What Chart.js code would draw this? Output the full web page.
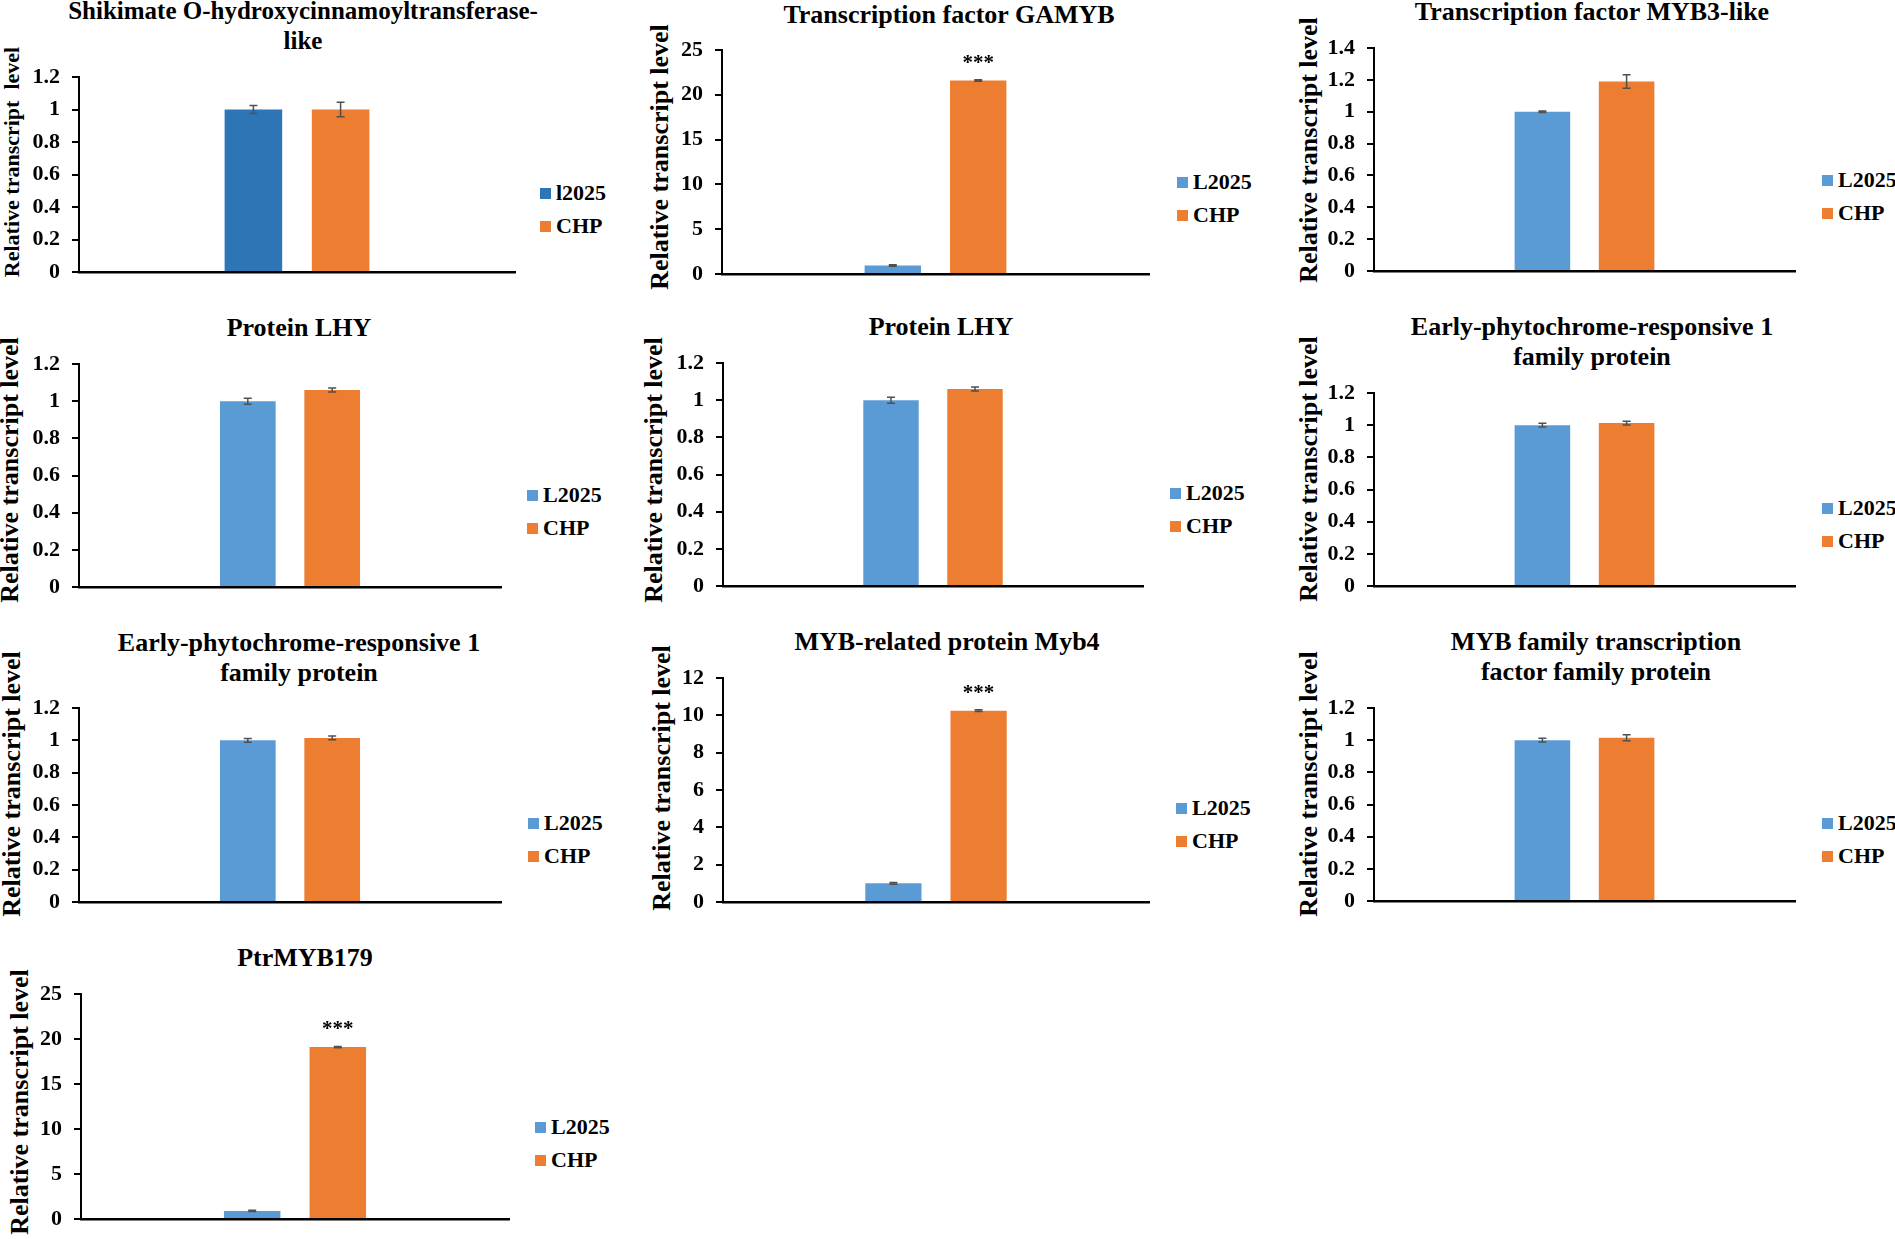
<!DOCTYPE html>
<html>
<head>
<meta charset="utf-8">
<script src="https://cdn.jsdelivr.net/npm/chart.js@4.4.1/dist/chart.umd.min.js"></script>
<style>
body { margin: 0; background: #fff; }
#page { position: relative; width: 1895px; height: 1239px; overflow: hidden; background: #fff;
        font-family: "Liberation Serif", "Times New Roman", serif; font-weight: bold; color: #000; }
#page canvas { position: absolute; }
.ttl { position: absolute; width: 800px; text-align: center; font-size: 26px; line-height: 30px; white-space: nowrap; }
.lg { position: absolute; font-size: 22px; line-height: 30px; white-space: nowrap; }
.sw { position: absolute; width: 11px; height: 11px; }
.yt { position: absolute; font-size: 26px; line-height: 30px; white-space: pre; transform: translate(-50%, -50%) rotate(-90deg); }
</style>
</head>
<body>
<div id="page"></div>
<script>
// values, one entry per panel
var titles = [
    ["Shikimate O-hydroxycinnamoyltransferase-", "like"],
    ["Transcription factor GAMYB"],
    ["Transcription factor MYB3-like"],
    ["Protein LHY"],
    ["Protein LHY"],
    ["Early-phytochrome-responsive 1", "family protein"],
    ["Early-phytochrome-responsive 1", "family protein"],
    ["MYB-related protein Myb4"],
    ["MYB family transcription", "factor family protein"],
    ["PtrMYB179"]
];
var seriesNames = [
    ["l2025", "CHP"], ["L2025", "CHP"], ["L2025", "CHP"], ["L2025", "CHP"], ["L2025", "CHP"],
    ["L2025", "CHP"], ["L2025", "CHP"], ["L2025", "CHP"], ["L2025", "CHP"], ["L2025", "CHP"]
];
var yTitles = ["Relative transcript  level", "Relative transcript level", "Relative transcript level",
    "Relative transcript level", "Relative transcript level", "Relative transcript level",
    "Relative transcript level", "Relative transcript level", "Relative transcript level",
    "Relative transcript level"];
var l2025 = [1.0, 0.95, 1.0, 1.0, 1.0, 1.0, 1.0, 1.0, 1.0, 0.9];
var chp = [1.0, 21.6, 1.19, 1.06, 1.06, 1.013, 1.015, 10.25, 1.015, 19.1];
var l2025Err = [0.025, 0.08, 0.005, 0.016, 0.016, 0.012, 0.012, 0.05, 0.012, 0.08];
var chpErr = [0.045, 0.08, 0.042, 0.011, 0.011, 0.012, 0.012, 0.05, 0.019, 0.08];
var yMax = [1.2, 25, 1.4, 1.2, 1.2, 1.2, 1.2, 12, 1.2, 25];
var yStep = [0.2, 5, 0.2, 0.2, 0.2, 0.2, 0.2, 2, 0.2, 5];
var stars = ["", "***", "", "", "", "", "", "***", "", "***"];

// where each panel sits on the page (plot box, title, legend, y title)
var boxes = [
    {x: 79,   r: 515,  t: 77,  b: 272,  tx: 303,  ty: 11,  ts: 25, lx: 540,  ly: 193,  yo: 67, yc: 162,  ys: 22},
    {x: 722,  r: 1149, t: 50,  b: 274,  tx: 949,  ty: 15,  ts: 26, lx: 1177, ly: 182,  yo: 62, yc: 157,  ys: 26},
    {x: 1374, r: 1795, t: 48,  b: 271,  tx: 1592, ty: 12,  ts: 26, lx: 1822, ly: 180,  yo: 65, yc: 150,  ys: 26},
    {x: 79,   r: 501,  t: 364, b: 587,  tx: 299,  ty: 328, ts: 26, lx: 527,  ly: 495,  yo: 69, yc: 470,  ys: 26},
    {x: 723,  r: 1143, t: 363, b: 586,  tx: 941,  ty: 327, ts: 26, lx: 1170, ly: 493,  yo: 69, yc: 470,  ys: 26},
    {x: 1374, r: 1795, t: 393, b: 586,  tx: 1592, ty: 327, ts: 26, lx: 1822, ly: 508,  yo: 65, yc: 469,  ys: 26},
    {x: 79,   r: 501,  t: 708, b: 902,  tx: 299,  ty: 643, ts: 26, lx: 528,  ly: 823,  yo: 67, yc: 784,  ys: 26},
    {x: 723,  r: 1149, t: 678, b: 902,  tx: 947,  ty: 642, ts: 26, lx: 1176, ly: 808,  yo: 61, yc: 778,  ys: 26},
    {x: 1374, r: 1795, t: 708, b: 901,  tx: 1596, ty: 642, ts: 26, lx: 1822, ly: 823,  yo: 65, yc: 784,  ys: 26},
    {x: 81,   r: 509,  t: 994, b: 1219, tx: 305,  ty: 958, ts: 26, lx: 535,  ly: 1127, yo: 61, yc: 1102, ys: 26}
];
var colL = "#5B9BD5", colL1 = "#2E75B6", colC = "#ED7D31";
var AXW = 100, PT = 30, PR = 8, PB = 30;
var FONT = "'Liberation Serif', 'Times New Roman', serif";

var errorBars = {
    id: "errorBars",
    afterDatasetsDraw: function (chart) {
        var ctx = chart.ctx, y = chart.scales.y;
        ctx.save();
        chart.data.datasets.forEach(function (ds, d) {
            chart.getDatasetMeta(d).data.forEach(function (bar, j) {
                var v = ds.data[j], e = ds.errors[j];
                var y1 = y.getPixelForValue(v + e), y2 = y.getPixelForValue(v - e);
                ctx.strokeStyle = "#505050";
                ctx.lineWidth = 1.5;
                ctx.beginPath();
                ctx.moveTo(bar.x, y1); ctx.lineTo(bar.x, y2);
                ctx.moveTo(bar.x - 4, y1); ctx.lineTo(bar.x + 4, y1);
                ctx.moveTo(bar.x - 4, y2); ctx.lineTo(bar.x + 4, y2);
                ctx.stroke();
                if (ds.stars && ds.stars[j]) {
                    ctx.fillStyle = "#000";
                    ctx.font = "bold 21px " + FONT;
                    ctx.textAlign = "center";
                    ctx.textBaseline = "alphabetic";
                    ctx.fillText(ds.stars[j], bar.x, y.getPixelForValue(v + e) - 11);
                }
            });
        });
        ctx.restore();
    }
};

var page = document.getElementById("page");

function addDiv(cls, left, top, html, extra) {
    var d = document.createElement("div");
    d.className = cls;
    d.style.left = left + "px";
    d.style.top = top + "px";
    if (html !== null) d.innerHTML = html;
    if (extra) for (var k in extra) d.style[k] = extra[k];
    page.appendChild(d);
    return d;
}

for (let i = 0; i < titles.length; i++) {
    var bx = boxes[i];

    addDiv("ttl", bx.tx - 400, bx.ty - 15, titles[i].join("<br>"), {fontSize: bx.ts + "px"});
    var yt = addDiv("yt", bx.x - bx.yo, bx.yc, null, {fontSize: bx.ys + "px"});
    yt.textContent = yTitles[i];

    var cols = [i === 0 ? colL1 : colL, colC];
    for (var s = 0; s < 2; s++) {
        var cy = bx.ly + s * 33;
        addDiv("sw", bx.lx, cy - 5.5, null, {background: cols[s]});
        addDiv("lg", bx.lx + 16, cy - 15, seriesNames[i][s]);
    }

    var cv = document.createElement("canvas");
    var w = (bx.r - bx.x) + AXW + PR;
    var h = (bx.b - bx.t) + PT + PB;
    cv.width = w; cv.height = h;
    cv.style.left = (bx.x - AXW) + "px";
    cv.style.top = (bx.t - PT) + "px";
    cv.style.width = w + "px"; cv.style.height = h + "px";
    page.appendChild(cv);

    new Chart(cv.getContext("2d"), {
        type: "bar",
        data: {
            labels: [""],
            datasets: [
                {label: seriesNames[i][0], data: [l2025[i]], errors: [l2025Err[i]], backgroundColor: cols[0],
                 barPercentage: 0.66, categoryPercentage: 0.4},
                {label: seriesNames[i][1], data: [chp[i]], errors: [chpErr[i]], stars: [stars[i]], backgroundColor: cols[1],
                 barPercentage: 0.66, categoryPercentage: 0.4}
            ]
        },
        options: {
            responsive: false,
            animation: false,
            devicePixelRatio: 1,
            layout: {padding: {top: PT, right: PR, bottom: PB, left: 0}},
            plugins: {legend: {display: false}, title: {display: false}, tooltip: {enabled: false}},
            scales: {
                x: {
                    grid: {display: false},
                    ticks: {display: false},
                    border: {display: true, color: "#000", width: 2.5},
                    afterFit: function (sc) { sc.height = 0; }
                },
                y: {
                    min: 0, max: yMax[i],
                    ticks: {
                        stepSize: yStep[i], color: "#000", padding: 12,
                        font: {family: FONT, size: 22, weight: "bold"},
                        callback: function (v) { return String(Math.round(v * 10) / 10); }
                    },
                    grid: {display: true, drawOnChartArea: false, drawTicks: true, tickLength: 7, color: "#000", lineWidth: 2},
                    border: {display: true, color: "#000", width: 2},
                    afterFit: function (sc) { sc.width = AXW; }
                }
            }
        },
        plugins: [errorBars]
    });
}
</script>
</body>
</html>
